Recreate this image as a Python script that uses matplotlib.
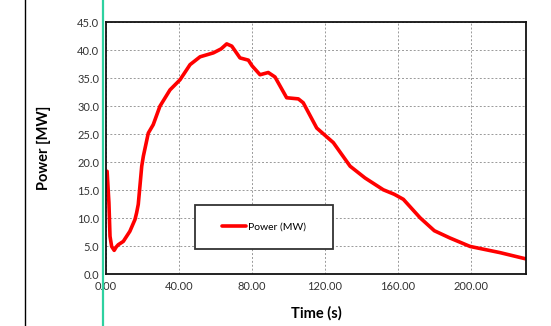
import matplotlib
matplotlib.use("Agg")
import matplotlib.pyplot as plt
from matplotlib.lines import Line2D
from matplotlib.patches import Rectangle

plt.rcParams['font.family'] = ['Lato', 'DejaVu Sans']

time_s = [0.5, 1.5, 2.1, 3.0, 4.4, 5.5, 6.6, 9.4, 13.0, 15.8, 16.7, 17.6, 18.5, 19.5,
          20.4, 23.1, 25.8, 29.5, 35.0, 40.5, 46.0, 51.5, 58.8, 63.0, 66.1, 68.9,
          73.4, 78.0, 80.0, 84.4, 88.9, 92.6, 99.0, 105.4, 108.1, 115.5, 124.6,
          133.8, 142.0, 152.0, 158.0, 163.0, 172.2, 180.0, 188.6, 199.6, 216.0, 230.0]
power_mw = [18.4, 12.8, 6.8, 5.0, 4.3, 4.9, 5.3, 5.9, 7.7, 9.8, 11.0, 12.5, 15.7, 19.3,
            21.1, 25.2, 26.7, 30.0, 32.9, 34.7, 37.4, 38.8, 39.5, 40.2, 41.1, 40.7,
            38.6, 38.2, 37.2, 35.6, 36.0, 35.2, 31.5, 31.3, 30.6, 26.1, 23.5,
            19.3, 17.2, 15.1, 14.3, 13.4, 10.1, 7.8, 6.5, 5.0, 3.9, 2.8]

x_ticks = [0, 40, 80, 120, 160, 200]
y_ticks = [0, 5, 10, 15, 20, 25, 30, 35, 40, 45]

fig = plt.figure(figsize=(5.51, 3.26), dpi=100)
ax = fig.add_axes([0.1927, 0.158, 0.762, 0.7745])

ax.plot(time_s, power_mw, color='#ff0000', lw=2.6, label='Power (MW)', solid_capstyle='round',
        solid_joinstyle='round')

ax.set_xlim(0, 230.3)
ax.set_ylim(0, 45)
ax.set_xticks(x_ticks)
ax.set_xticklabels([f"{v:.2f}" for v in x_ticks])
ax.set_yticks(y_ticks)
ax.set_yticklabels([f"{v:.1f}" for v in y_ticks])
ax.tick_params(length=0, labelsize=8, colors='#333333', pad=5)
ax.grid(True, color='#999999', linestyle=(0, (2, 2)), linewidth=0.7)
for s in ax.spines.values():
    s.set_color('#111111')
    s.set_linewidth(1.3)

ax.set_xlabel('Time (s)', fontsize=10.5, fontweight='bold', labelpad=10)
ax.set_ylabel('Power [MW]', fontsize=10.5, fontweight='bold', labelpad=19)

# legend box (drawn as rectangle in axes coords)
box = Rectangle((0.2107, 0.1), 0.33, 0.175, transform=ax.transAxes, facecolor='white',
                edgecolor='#333333', linewidth=1.3, zorder=5)
ax.add_patch(box)
leg = ax.legend(loc='center', bbox_to_anchor=(0.376, 0.187), fontsize=7.5,
                frameon=False, handlelength=2.3, handletextpad=0.15, borderaxespad=0)
leg.set_zorder(6)

fig.add_artist(Line2D([25/551, 25/551], [0, 1], color='black', lw=1.0, transform=fig.transFigure))
fig.add_artist(Line2D([103.3/551, 103.3/551], [0, 1], color='#2ed1a0', lw=1.6, transform=fig.transFigure))

fig.savefig('out.png', dpi=100)
